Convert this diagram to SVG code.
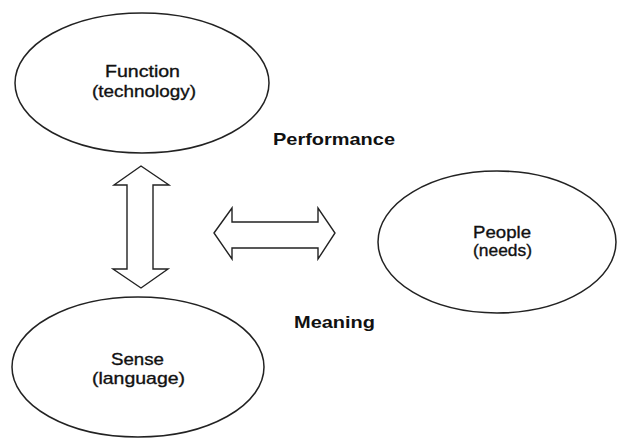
<svg xmlns="http://www.w3.org/2000/svg" width="617" height="439" viewBox="0 0 617 439">
  <style>
    .node { fill: #fff; stroke: #222; stroke-width: 1.5; }
    .arrow { fill: #fff; stroke: #222; stroke-width: 1.4; stroke-linejoin: miter; }
    .lbl { font-family: "Liberation Sans", Arial, sans-serif; font-size: 17px; fill: #111; stroke: #111; stroke-width: 0.35; text-anchor: middle; }
    .rel { font-family: "Liberation Sans", Arial, sans-serif; font-size: 17px; font-weight: bold; fill: #111; }
  </style>
  <rect width="617" height="439" fill="#fff"/>

  <g id="function">
    <ellipse class="node" cx="142" cy="83" rx="127" ry="70"/>
    <text class="lbl" x="142.5" y="77" textLength="75" lengthAdjust="spacingAndGlyphs">Function</text>
    <text class="lbl" x="144" y="97" textLength="104" lengthAdjust="spacingAndGlyphs">(technology)</text>
  </g>

  <g id="sense">
    <ellipse class="node" cx="138" cy="367" rx="126" ry="70"/>
    <text class="lbl" x="137.5" y="365" textLength="53" lengthAdjust="spacingAndGlyphs">Sense</text>
    <text class="lbl" x="138.5" y="384" textLength="93" lengthAdjust="spacingAndGlyphs">(language)</text>
  </g>

  <g id="people">
    <ellipse class="node" cx="497" cy="242" rx="119" ry="71"/>
    <text class="lbl" x="502" y="238" textLength="58" lengthAdjust="spacingAndGlyphs">People</text>
    <text class="lbl" x="502.5" y="256" textLength="59" lengthAdjust="spacingAndGlyphs">(needs)</text>
  </g>

  <g id="performance">
    <text class="rel" x="273" y="145" textLength="122" lengthAdjust="spacingAndGlyphs">Performance</text>
  </g>

  <g id="meaning">
    <text class="rel" x="294" y="328" textLength="81" lengthAdjust="spacingAndGlyphs">Meaning</text>
  </g>

  <g id="connectors">
    <!-- double-headed block arrow between Function and Sense -->
    <path class="arrow" d="M141,166 L169,185 L153,185 L153,269 L168,269 L141,288 L113,269 L127,269 L127,185 L114,185 Z"/>
    <!-- double-headed block arrow towards People -->
    <path class="arrow" d="M214,233 L232,208 L232,222 L318,222 L318,208 L335,233 L318,259 L318,248 L232,248 L232,259 Z"/>
  </g>
</svg>
